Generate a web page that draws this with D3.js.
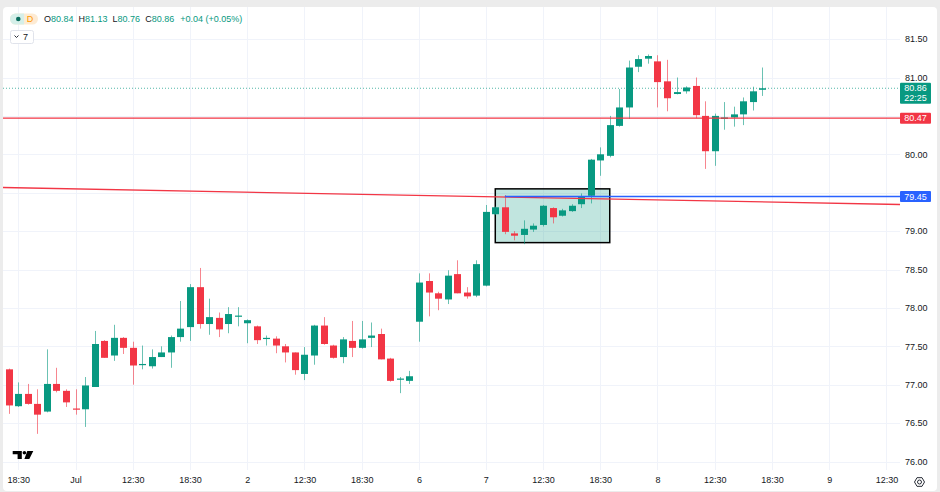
<!DOCTYPE html>
<html>
<head>
<meta charset="utf-8">
<script src="https://cdn.jsdelivr.net/npm/d3@7"></script>
<style>
  body { margin: 0; background: #ececec; }
  svg { display: block; font-family: "Liberation Sans", Arial, sans-serif; }
</style>
</head>
<body>
<div id="container"></div>
<script>
// Hourly candles
const opens = [77.20, 76.72, 76.88, 76.75, 76.65, 77.01, 76.92, 76.69, 76.68, 76.97,
  77.57, 77.38, 77.61, 77.48, 77.26, 77.24, 77.36, 77.42, 77.62, 77.75,
  78.27, 77.79, 77.87, 77.79, 77.89, 77.80, 77.76, 77.60, 77.60, 77.50,
  77.42, 77.14, 77.38, 77.77, 77.51, 77.36, 77.57, 77.48, 77.61, 77.66,
  77.34, 77.07, 77.05, 77.82, 78.35, 78.19, 78.11, 78.44, 78.20, 78.16,
  78.29, 79.22, 79.31, 78.97, 78.95, 79.02, 79.08, 79.30, 79.20, 79.26,
  79.35, 79.46, 79.92, 79.98, 80.37, 80.61, 81.14, 81.245, 81.21, 80.95,
  80.785, 80.82, 80.89, 80.50, 80.04, 80.46, 80.48, 80.52, 80.68, 80.84];
const highs = [77.21, 77.03, 77.01, 76.94, 77.46, 77.22, 76.94, 76.94, 77.10, 77.70,
  77.58, 77.78, 77.62, 77.56, 77.51, 77.46, 77.50, 77.64, 78.09, 78.31,
  78.52, 78.12, 77.94, 78.01, 78.01, 77.85, 77.77, 77.64, 77.63, 77.53,
  77.42, 77.49, 77.78, 77.88, 77.52, 77.62, 77.83, 77.83, 77.81, 77.73,
  77.35, 77.10, 77.18, 78.45, 78.45, 78.21, 78.49, 78.62, 78.27, 78.62,
  79.34, 79.32, 79.47, 79.00, 79.14, 79.10, 79.34, 79.31, 79.29, 79.35,
  79.49, 79.94, 80.09, 80.50, 80.85, 81.22, 81.29, 81.30, 81.29, 81.23,
  81.00, 80.885, 81.00, 80.69, 80.53, 80.68, 80.62, 80.74, 80.88, 81.13];
const lows = [76.62, 76.71, 76.74, 76.36, 76.64, 76.90, 76.71, 76.61, 76.45, 76.97,
  77.35, 77.31, 77.40, 77.00, 77.20, 77.21, 77.36, 77.22, 77.56, 77.57,
  77.73, 77.65, 77.62, 77.67, 77.76, 77.54, 77.53, 77.51, 77.41, 77.29,
  77.13, 77.06, 77.26, 77.52, 77.34, 77.28, 77.36, 77.47, 77.49, 77.33,
  77.04, 76.89, 77.01, 77.56, 77.89, 77.97, 78.05, 78.19, 78.12, 78.14,
  78.28, 79.21, 78.96, 78.88, 78.83, 78.99, 79.06, 79.10, 79.19, 79.25,
  79.30, 79.36, 79.72, 79.96, 80.36, 80.46, 81.07, 81.18, 80.61, 80.56,
  80.78, 80.79, 80.47, 79.81, 79.85, 80.32, 80.36, 80.38, 80.57, 80.76];
const closes = [76.73, 76.88, 76.75, 76.61, 77.01, 76.92, 76.77, 76.68, 76.99, 77.53,
  77.35, 77.61, 77.48, 77.25, 77.27, 77.36, 77.42, 77.62, 77.73, 78.27,
  77.79, 77.88, 77.72, 77.92, 77.90, 77.84, 77.58, 77.61, 77.51, 77.42,
  77.19, 77.39, 77.77, 77.53, 77.35, 77.59, 77.48, 77.59, 77.64, 77.33,
  77.05, 77.08, 77.11, 78.33, 78.20, 78.12, 78.42, 78.19, 78.15, 78.57,
  79.25, 79.31, 78.99, 78.94, 79.03, 79.07, 79.33, 79.18, 79.27, 79.33,
  79.45, 79.93, 80.00, 80.38, 80.61, 81.13, 81.24, 81.28, 80.94, 80.73,
  80.81, 80.87, 80.51, 80.04, 80.50, 80.48, 80.52, 80.69, 80.82, 80.86];

// Time axis (bar index -> label)
const timeTickIdx = [1, 7, 13, 19, 25, 31, 37, 43, 50, 56, 62, 68, 74, 80, 86, 92];
const timeTickText = ["18:30", "Jul", "12:30", "18:30", "2", "12:30", "18:30", "6",
  "7", "12:30", "18:30", "8", "12:30", "18:30", "9", "12:30"];
const priceGrid = [76, 76.5, 77, 77.5, 78, 78.5, 79, 79.5, 80, 80.5, 81, 81.5];
// 79.50 and 80.50 sit under the drawing tags, so no text for them
const priceLabels = [76, 76.5, 77, 77.5, 78, 78.5, 79, 80, 81, 81.5];

// Drawings
const hLinePrice = 80.47;
const blueLinePrice = 79.45;
const blueLineStart = 52;
const trendIdx = [0, 79];
const trendPrice = [79.566, 79.38];
const boxIdx = [51, 63];
const boxPrice = [79.55, 78.85];
const lastPrice = 80.86;
const countdown = "22:25";

const width = 940, height = 492;
const plot = { left: 3, right: 900, top: 7, bottom: 470 };
const up = "#089981", down = "#f23645", textCol = "#131722", gridCol = "#f0f3fa";

const x = d3.scaleLinear().domain([0, 92]).range([8.76, 886.4]);
const y = d3.scaleLinear().domain([76, 81.5]).range([461.5, 39.1]);

const candles = opens.map((o, i) => ({ i, o, h: highs[i], l: lows[i], c: closes[i] }));

const svg = d3.select("#container").append("svg")
    .attr("width", width)
    .attr("height", height);

// panel
svg.append("rect").attr("width", width).attr("height", height).attr("fill", "#ececec");
svg.append("rect")
    .attr("x", 3).attr("y", 7).attr("width", 934).attr("height", 484)
    .attr("rx", 4).attr("fill", "#fff");

// grid
svg.append("g").selectAll("line").data(priceGrid).enter().append("line")
    .attr("x1", plot.left).attr("x2", plot.right)
    .attr("y1", d => Math.round(y(d)) + 0.5).attr("y2", d => Math.round(y(d)) + 0.5)
    .attr("stroke", gridCol);
svg.append("g").selectAll("line").data(timeTickIdx).enter().append("line")
    .attr("x1", d => Math.round(x(d)) + 0.5).attr("x2", d => Math.round(x(d)) + 0.5)
    .attr("y1", plot.top).attr("y2", plot.bottom)
    .attr("stroke", gridCol);

// last price dotted line
svg.append("line")
    .attr("x1", plot.left).attr("x2", plot.right)
    .attr("y1", y(lastPrice)).attr("y2", y(lastPrice))
    .attr("stroke", up).attr("stroke-dasharray", "1,2").attr("stroke-opacity", 0.7);

// rectangle drawing
svg.append("rect")
    .attr("x", x(boxIdx[0])).attr("y", y(boxPrice[0]))
    .attr("width", x(boxIdx[1]) - x(boxIdx[0]))
    .attr("height", y(boxPrice[1]) - y(boxPrice[0]))
    .attr("fill", "rgba(8,153,129,0.25)")
    .attr("stroke", "#000").attr("stroke-width", 1.5);

// candles
const bodyW = 7;
const cg = svg.append("g");
cg.selectAll(".wick").data(candles).enter().append("line")
    .attr("class", "wick")
    .attr("x1", d => Math.round(x(d.i)) + 0.5).attr("x2", d => Math.round(x(d.i)) + 0.5)
    .attr("y1", d => y(d.h)).attr("y2", d => y(d.l))
    .attr("stroke", d => d.c >= d.o ? up : down)
    .attr("stroke-opacity", 0.6);
cg.selectAll(".body").data(candles).enter().append("rect")
    .attr("class", "body")
    .attr("x", d => Math.round(x(d.i)) + 0.5 - bodyW / 2)
    .attr("y", d => y(Math.max(d.o, d.c)))
    .attr("width", bodyW)
    .attr("height", d => Math.max(1.2, Math.abs(y(d.o) - y(d.c))))
    .attr("fill", d => d.c >= d.o ? up : down);

// horizontal red line
svg.append("line")
    .attr("x1", plot.left).attr("x2", plot.right)
    .attr("y1", y(hLinePrice)).attr("y2", y(hLinePrice))
    .attr("stroke", down).attr("stroke-width", 1.3);

// trend line extended across the plot
const slope = (trendPrice[1] - trendPrice[0]) / (trendIdx[1] - trendIdx[0]);
const idxL = x.invert(plot.left), idxR = x.invert(plot.right);
svg.append("line")
    .attr("x1", plot.left).attr("x2", plot.right)
    .attr("y1", y(trendPrice[0] + slope * (idxL - trendIdx[0])))
    .attr("y2", y(trendPrice[0] + slope * (idxR - trendIdx[0])))
    .attr("stroke", down).attr("stroke-width", 1.3);

// blue horizontal ray
svg.append("line")
    .attr("x1", x(blueLineStart)).attr("x2", plot.right)
    .attr("y1", y(blueLinePrice)).attr("y2", y(blueLinePrice))
    .attr("stroke", "#2962ff").attr("stroke-width", 1.5);

// price axis
const yAxis = svg.append("g")
    .attr("transform", `translate(905,0)`)
    .call(d3.axisRight(y).tickValues(priceLabels).tickSize(0).tickPadding(0)
        .tickFormat(d => d.toFixed(2)));
yAxis.select(".domain").remove();
yAxis.selectAll("text")
    .attr("fill", textCol).style("font-size", "9px")
    .attr("font-family", "'Liberation Sans', Arial, sans-serif");

// time axis
const xAxis = svg.append("g")
    .attr("transform", `translate(0,477)`)
    .call(d3.axisBottom(x).tickValues(timeTickIdx).tickSize(0).tickPadding(0)
        .tickFormat((d, i) => timeTickText[i]));
xAxis.select(".domain").remove();
xAxis.selectAll("text")
    .attr("fill", textCol).style("font-size", "9px")
    .attr("font-family", "'Liberation Sans', Arial, sans-serif");

// axis price labels
function priceTag(price, color, lines) {
    const h = lines.length > 1 ? 21 : 11;
    const top = lines.length > 1 ? y(price) - 5.5 : y(price) - h / 2;
    svg.append("rect")
        .attr("x", 900).attr("y", top).attr("width", 31).attr("height", h)
        .attr("rx", 1).attr("fill", color);
    lines.forEach((t, k) => {
        svg.append("text")
            .attr("x", 915.5).attr("y", top + 5.5 + k * 10)
            .attr("dy", "0.35em").attr("text-anchor", "middle")
            .attr("fill", "#fff").style("font-size", "9px")
            .text(t);
    });
}
priceTag(lastPrice, up, [lastPrice.toFixed(2), countdown]);
priceTag(hLinePrice, down, [hLinePrice.toFixed(2)]);
priceTag(blueLinePrice, "#2962ff", [blueLinePrice.toFixed(2)]);

// legend
const last = candles[candles.length - 1];
const prev = candles[candles.length - 2];
const chg = last.c - prev.c;
const lg = svg.append("g");
lg.append("rect").attr("x", 10).attr("y", 13.5).attr("width", 28).attr("height", 11)
    .attr("rx", 5.5).attr("fill", "#fdebd3");
lg.append("path").attr("d", "M15.5,13.5 H24 V24.5 H15.5 A5.5,5.5 0 0 1 15.5,13.5 Z")
    .attr("fill", "#d5efe9");
lg.append("circle").attr("cx", 18.3).attr("cy", 19).attr("r", 2.3).attr("fill", "#0b6e5f");
lg.append("text").attr("x", 30).attr("y", 22.3).attr("text-anchor", "middle")
    .attr("fill", "#ff9800").style("font-size", "9px").text("D");

const legendText = lg.append("text").attr("x", 44).attr("y", 22.3).style("font-size", "9px");
[["O", last.o], ["H", last.h], ["L", last.l], ["C", last.c]].forEach(([k, v], n) => {
    legendText.append("tspan").attr("dx", n ? 5 : 0).attr("fill", textCol).text(k);
    legendText.append("tspan").attr("fill", up).text(v.toFixed(2));
});
legendText.append("tspan").attr("dx", 6).attr("fill", up)
    .text(`+${chg.toFixed(2)} (+${(chg / prev.c * 100).toFixed(2)}%)`);

lg.append("rect").attr("x", 10.5).attr("y", 30.5).attr("width", 23).attr("height", 13)
    .attr("rx", 2).attr("fill", "#fff").attr("stroke", "#e0e3eb");
lg.append("path").attr("d", "M14.5,35.5 L16.5,37.5 L18.5,35.5")
    .attr("fill", "none").attr("stroke", textCol).attr("stroke-width", 0.9);
lg.append("text").attr("x", 23).attr("y", 40.3).attr("fill", textCol)
    .style("font-size", "9px").text("7");

// TradingView logo
svg.append("path").attr("d", "M12.7,451 H21.8 V459 H17.6 V454.3 H12.7 Z M27.3,451 H33.3 L29.3,459 H24.4 Z")
    .attr("fill", "#000");
svg.append("circle").attr("cx", 24.4).attr("cy", 452.8).attr("r", 1.8).attr("fill", "#000");

// settings icon
svg.append("path")
    .attr("d", d3.range(6).map(k => {
        const a = Math.PI / 3 * k;
        return (k ? "L" : "M") + (919.5 + 5 * Math.cos(a)) + "," + (482 + 5 * Math.sin(a));
    }).join("") + "Z")
    .attr("fill", "none").attr("stroke", textCol).attr("stroke-width", 0.9);
svg.append("circle").attr("cx", 919.5).attr("cy", 482).attr("r", 2)
    .attr("fill", "none").attr("stroke", textCol).attr("stroke-width", 0.9);
</script>
</body>
</html>
